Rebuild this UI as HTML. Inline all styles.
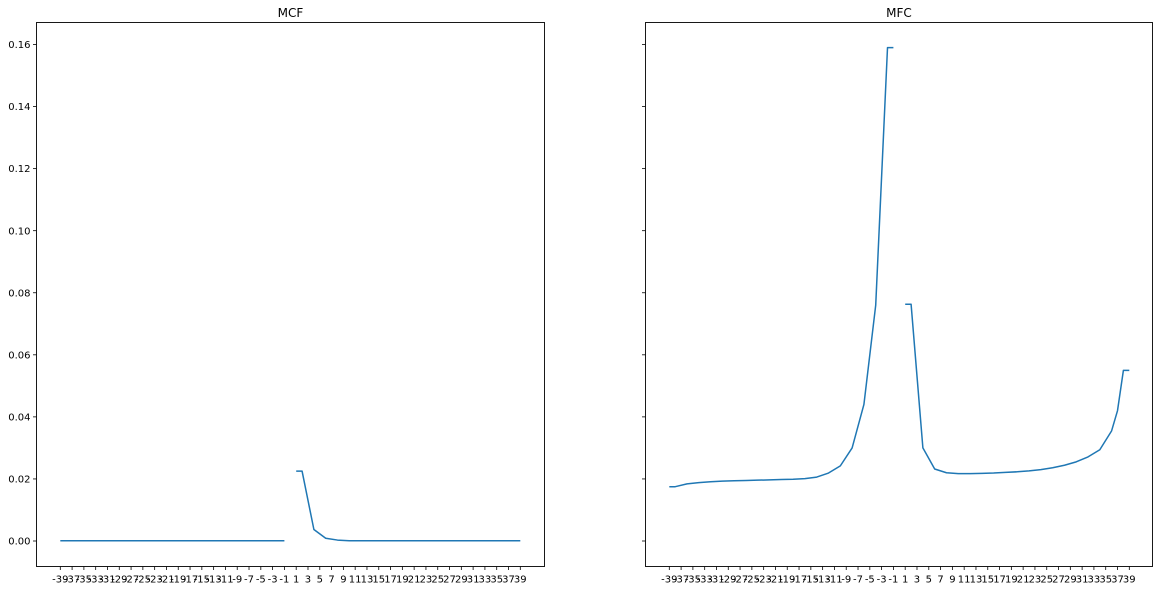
<!DOCTYPE html>
<html><head><meta charset="utf-8"><style>
html,body{margin:0;padding:0;background:#fff;}
svg{display:block;font-family:"DejaVu Sans","Liberation Sans",sans-serif;}
</style></head><body>
<svg id="fig" width="1159" height="590" viewBox="0 0 1159 590" xmlns="http://www.w3.org/2000/svg"></svg>
<script>
// ---- data ----
const tickLabels = [-39,-37,-35,-33,-31,-29,-27,-25,-23,-21,-19,-17,-15,-13,-11,-9,-7,-5,-3,-1,1,3,5,7,9,11,13,15,17,19,21,23,25,27,29,31,33,35,37,39];
const yTicks = [0.00,0.02,0.04,0.06,0.08,0.10,0.12,0.14,0.16];
const negX = [-39,-38,-36,-34,-32,-30,-28,-26,-24,-22,-20,-18,-16,-14,-12,-10,-8,-6,-4,-2,-1];
const posX = [1,2,4,6,8,10,12,14,16,18,20,22,24,26,28,30,32,34,36,37,38,39];
const mcfNeg = [0.0001,0.0001,0.0001,0.0001,0.0001,0.0001,0.0001,0.0001,0.0001,0.0001,0.0001,0.0001,0.0001,0.0001,0.0001,0.0001,0.0001,0.0001,0.0001,0.0001,0.0001];
const mcfPos = [0.0225,0.0225,0.0037,0.0009,0.0003,0.0001,0.0001,0.0001,0.0001,0.0001,0.0001,0.0001,0.0001,0.0001,0.0001,0.0001,0.0001,0.0001,0.0001,0.0001,0.0001,0.0001];
const mfcNeg = [0.0175,0.0175,0.0184,0.0188,0.0191,0.0193,0.0194,0.0195,0.0196,0.0197,0.0198,0.0199,0.0201,0.0206,0.0219,0.0242,0.0300,0.0440,0.0760,0.1590,0.1590];
const mfcPos = [0.0763,0.0763,0.0300,0.0232,0.0220,0.0217,0.0217,0.0218,0.0219,0.0221,0.0223,0.0226,0.0230,0.0236,0.0244,0.0255,0.0271,0.0294,0.0355,0.0420,0.0550,0.0550];

const NS="http://www.w3.org/2000/svg";
const svgRoot=document.getElementById('fig');
function mk(tag,attrs,parent){const e=document.createElementNS(NS,tag);for(const k in attrs)e.setAttribute(k,attrs[k]);(parent||svgRoot).appendChild(e);return e;}

const frameTop=22.5, frameBottom=566.5;
const yZero=541, yPer=(541-44.5)/0.16;
function yS(v){return yZero - v*yPer;}

function panel(name,left,right,x0,title,neg,pos,showYLabels){
  const g=mk('g',{});
  
  
  const step=460/78;
  const xS=v=>x0+(v+39)*step;
  const mkLine=(xs,vals,part)=>{
    const pts=xs.map((x,i)=>xS(x).toFixed(2)+','+yS(vals[i]).toFixed(2)).join(' ');
    const p=mk('polyline',{points:pts,fill:'none',stroke:'#1f77b4','stroke-width':1.5,'stroke-linejoin':'round'},g);
    
    
  };
  mkLine(negX,neg,'negative');
  mkLine(posX,pos,'positive');
  const fr=mk('rect',{x:left,y:frameTop,width:right-left,height:frameBottom-frameTop,fill:'none',stroke:'#000','stroke-width':0.9},g);
  
  
  tickLabels.forEach(t=>{
    const x=xS(t);
    mk('line',{x1:x,x2:x,y1:frameBottom,y2:frameBottom+3.5,stroke:'#000','stroke-width':0.8},g);
    const tx=mk('text',{x:x,y:582.5,'font-size':10,'text-anchor':'middle',fill:'#000'},g);
    tx.textContent=String(t);
    
    
  });
  yTicks.forEach(t=>{
    const y=yS(t);
    mk('line',{x1:left-3.5,x2:left,y1:y,y2:y,stroke:'#000','stroke-width':0.8},g);
    if(showYLabels){
      const tx=mk('text',{x:left-6,y:y+3.6,'font-size':10,'text-anchor':'end',fill:'#000'},g);
      tx.textContent=t.toFixed(2);
      
      
    }
  });
  const tt=mk('text',{x:(left+right)/2,y:17,'font-size':12,'text-anchor':'middle',fill:'#000'},g);
  tt.textContent=title;
  
  
}
panel('mcf',36.5,544.5,60.3,'MCF',mcfNeg,mcfPos,true);
panel('mfc',645.5,1152.5,669.3,'MFC',mfcNeg,mfcPos,false);
</script>
</body></html>
